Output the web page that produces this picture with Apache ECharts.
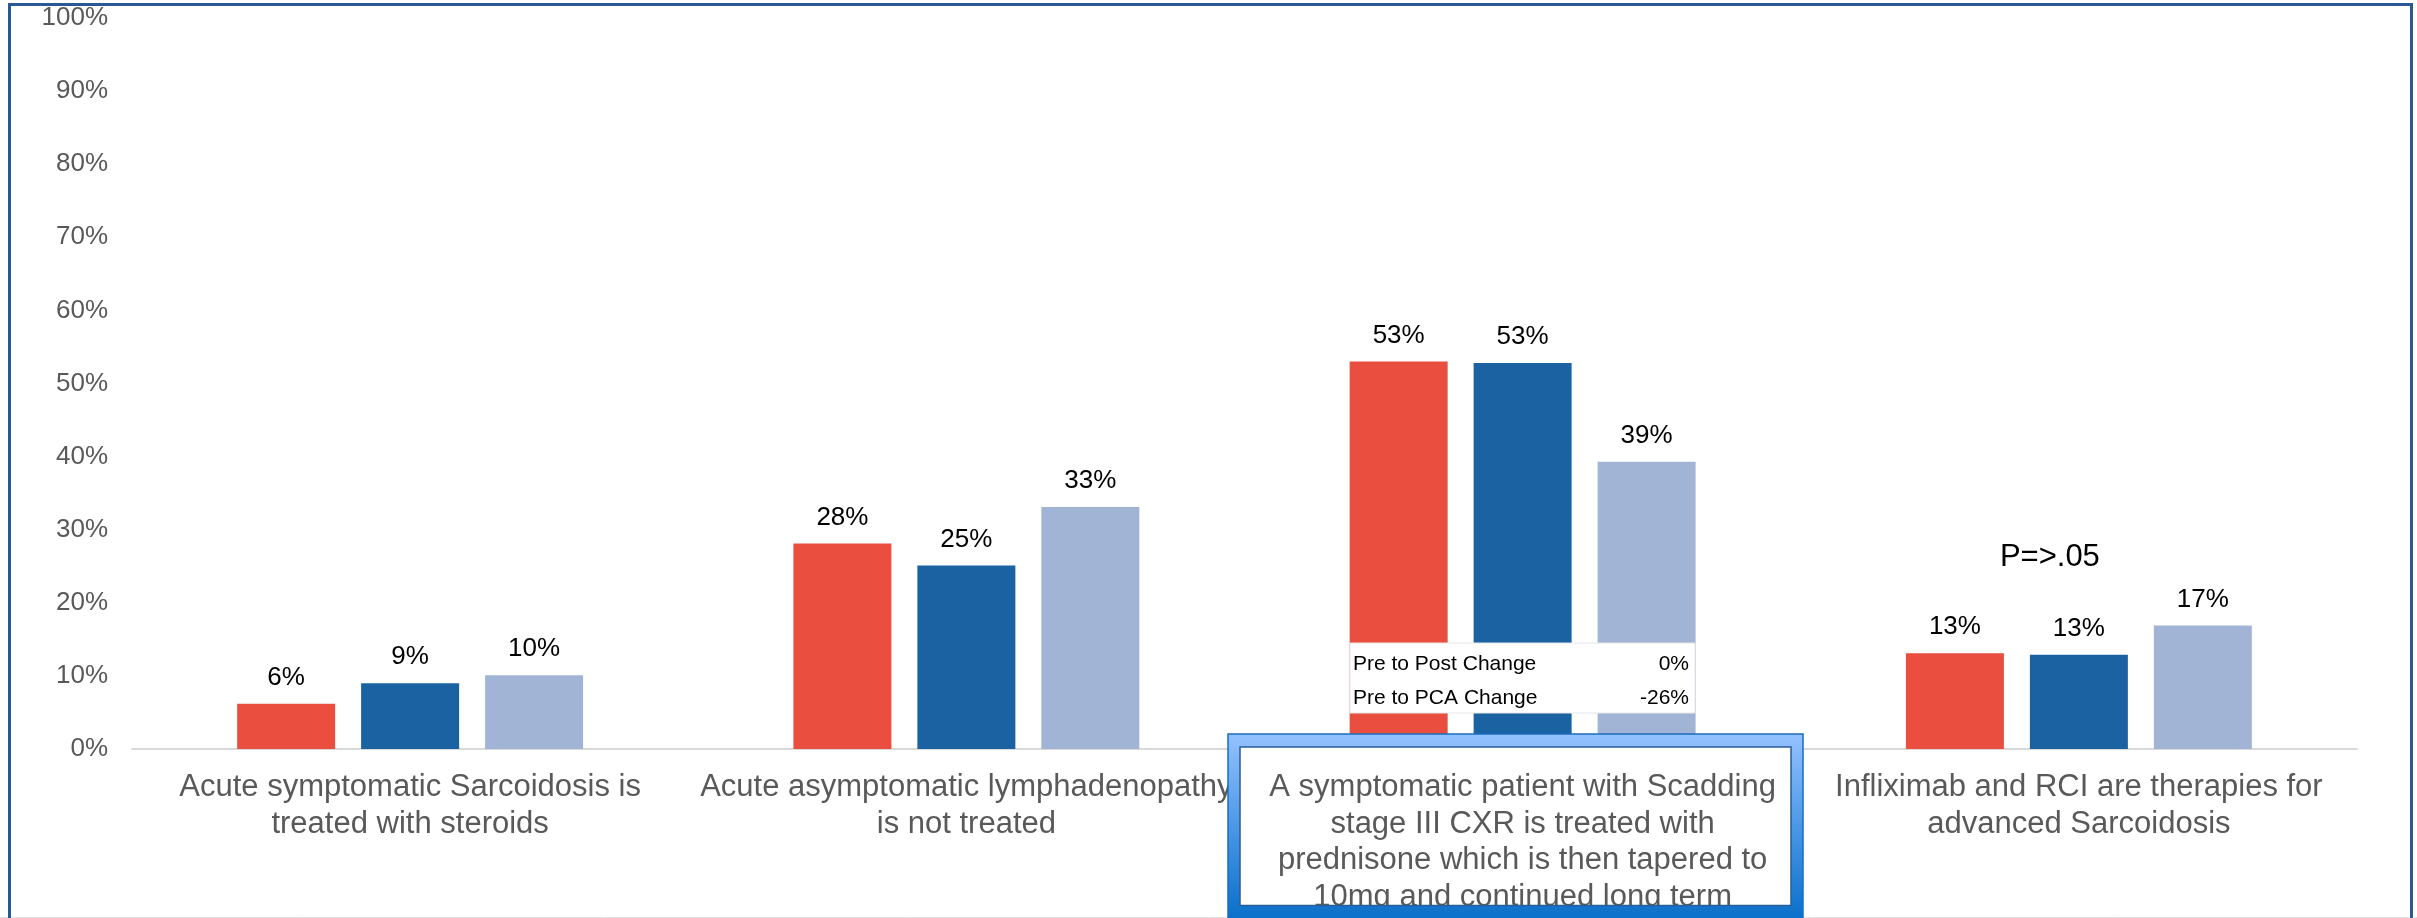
<!DOCTYPE html>
<html><head><meta charset="utf-8">
<script src="https://cdn.jsdelivr.net/npm/echarts@6/dist/echarts.min.js"></script>
<style>html,body{margin:0;padding:0;background:#fff;overflow:hidden}#c{width:2417px;height:918px}</style>
</head><body><div id="c"></div>
<script>
const categories = [
  'Acute symptomatic Sarcoidosis is\ntreated with steroids',
  'Acute asymptomatic lymphadenopathy\nis not treated',
  'A symptomatic patient with Scadding\nstage III CXR is treated with\nprednisone which is then tapered to\n10mg and continued long term',
  'Infliximab and RCI are therapies for\nadvanced Sarcoidosis'
];
const seriesNames = ['Pre', 'Post', 'PCA'];
const preValues = [6.2, 28.1, 53.0, 13.1];
const postValues = [9.0, 25.1, 52.8, 12.9];
const pcaValues = [10.1, 33.1, 39.3, 16.9];
const seriesColors = ['#E94E3E', '#1A62A2', '#A2B4D5'];
const tableRows = ['Pre to Post Change', 'Pre to PCA Change'];
const tableValues = ['0%', '-26%'];
const pValueText = 'P=>.05';

const FONT = "'Liberation Sans', Arial, sans-serif";
const chart = echarts.init(document.getElementById('c'), null, {renderer: 'canvas'});

function makeSeries(name, data, color) {
  return {
    name: name, type: 'bar', data: data,
    barWidth: 98, barGap: '26.5%',
    itemStyle: {color: color},
    label: {
      show: true, position: 'top', distance: 13,
      color: '#000', fontSize: 26, fontFamily: FONT,
      formatter: p => Math.round(p.value) + '%'
    },
    z: 2
  };
}

chart.setOption({
  animation: false,
  backgroundColor: '#fff',
  grid: {left: 132, right: 60, top: 18, bottom: 169, containLabel: false},
  xAxis: {
    type: 'category', data: categories,
    axisLine: {show: true, lineStyle: {color: '#D9D9D9', width: 2}},
    axisTick: {show: false},
    axisLabel: {
      interval: 0, margin: 20, color: '#595959', fontSize: 31, lineHeight: 37,
      fontFamily: FONT, hideOverlap: false,
      formatter: (v, i) => i === 2 ? '' : v
    },
    splitLine: {show: false}
  },
  yAxis: {
    type: 'value', min: 0, max: 100, interval: 10,
    axisLine: {show: false}, axisTick: {show: false},
    splitLine: {show: false},
    axisLabel: {formatter: '{value}%', color: '#595959', fontSize: 26, fontFamily: FONT, margin: 24}
  },
  series: [
    makeSeries(seriesNames[0], preValues, seriesColors[0]),
    makeSeries(seriesNames[1], postValues, seriesColors[1]),
    makeSeries(seriesNames[2], pcaValues, seriesColors[2])
  ]
});

const cat3X = chart.convertToPixel({xAxisIndex: 0}, categories[2]);
const cat4X = chart.convertToPixel({xAxisIndex: 0}, categories[3]);
const grad = {
  type: 'linear', x: 0, y: 734, x2: 0, y2: 918, global: true,
  colorStops: [{offset: 0, color: '#94C2FF'}, {offset: 0.5, color: '#4C98E6'}, {offset: 1, color: '#0A70CA'}]
};

chart.setOption({
  graphic: [
    // data table overlay on category 3
    {type: 'rect', z: 10, shape: {x: 1350, y: 643, width: 345, height: 70}, style: {fill: '#fff', stroke: '#E6E6E6', lineWidth: 1}},
    {type: 'text', z: 11, x: 1353, y: 664, style: {text: tableRows[0], fill: '#000', font: '21px ' + FONT, textVerticalAlign: 'middle', textAlign: 'left'}},
    {type: 'text', z: 11, x: 1689, y: 664, style: {text: tableValues[0], fill: '#000', font: '21px ' + FONT, textVerticalAlign: 'middle', textAlign: 'right'}},
    {type: 'text', z: 11, x: 1353, y: 698, style: {text: tableRows[1], fill: '#000', font: '21px ' + FONT, textVerticalAlign: 'middle', textAlign: 'left'}},
    {type: 'text', z: 11, x: 1689, y: 698, style: {text: tableValues[1], fill: '#000', font: '21px ' + FONT, textVerticalAlign: 'middle', textAlign: 'right'}},
    // p value
    {type: 'text', z: 11, x: cat4X - 29, y: 557, style: {text: pValueText, fill: '#000', font: '31px ' + FONT, textVerticalAlign: 'middle', textAlign: 'center'}},
    // highlighted label box
    {type: 'rect', z: 20, shape: {x: 1228, y: 734, width: 575, height: 200}, style: {fill: grad, stroke: '#1B6CC0', lineWidth: 1.5}},
    {type: 'rect', z: 20, shape: {x: 1240, y: 747, width: 551, height: 170}, style: {fill: '#fff', stroke: '#2A5E99', lineWidth: 1.5}},
    {type: 'text', z: 20, x: cat3X, y: 769.5, style: {text: categories[2], fill: '#595959', font: '31px ' + FONT, lineHeight: 36.5, textAlign: 'center', textVerticalAlign: 'top'}},
    {type: 'rect', z: 20, shape: {x: 1228, y: 906, width: 575, height: 30}, style: {fill: grad}},
    {type: 'line', z: 20, shape: {x1: 1240, y1: 905.5, x2: 1791, y2: 905.5}, style: {stroke: '#2A5E99', lineWidth: 1.5}},
    // bottom faint line and outer border
    {type: 'line', z: 5, shape: {x1: 0, y1: 917.5, x2: 2417, y2: 917.5}, style: {stroke: '#E3E3E3', lineWidth: 1}},
    {type: 'rect', z: 30, shape: {x: 9.5, y: 4.5, width: 2402, height: 960}, style: {fill: 'none', stroke: '#2B5797', lineWidth: 3}}
  ]
});
</script></body></html>
